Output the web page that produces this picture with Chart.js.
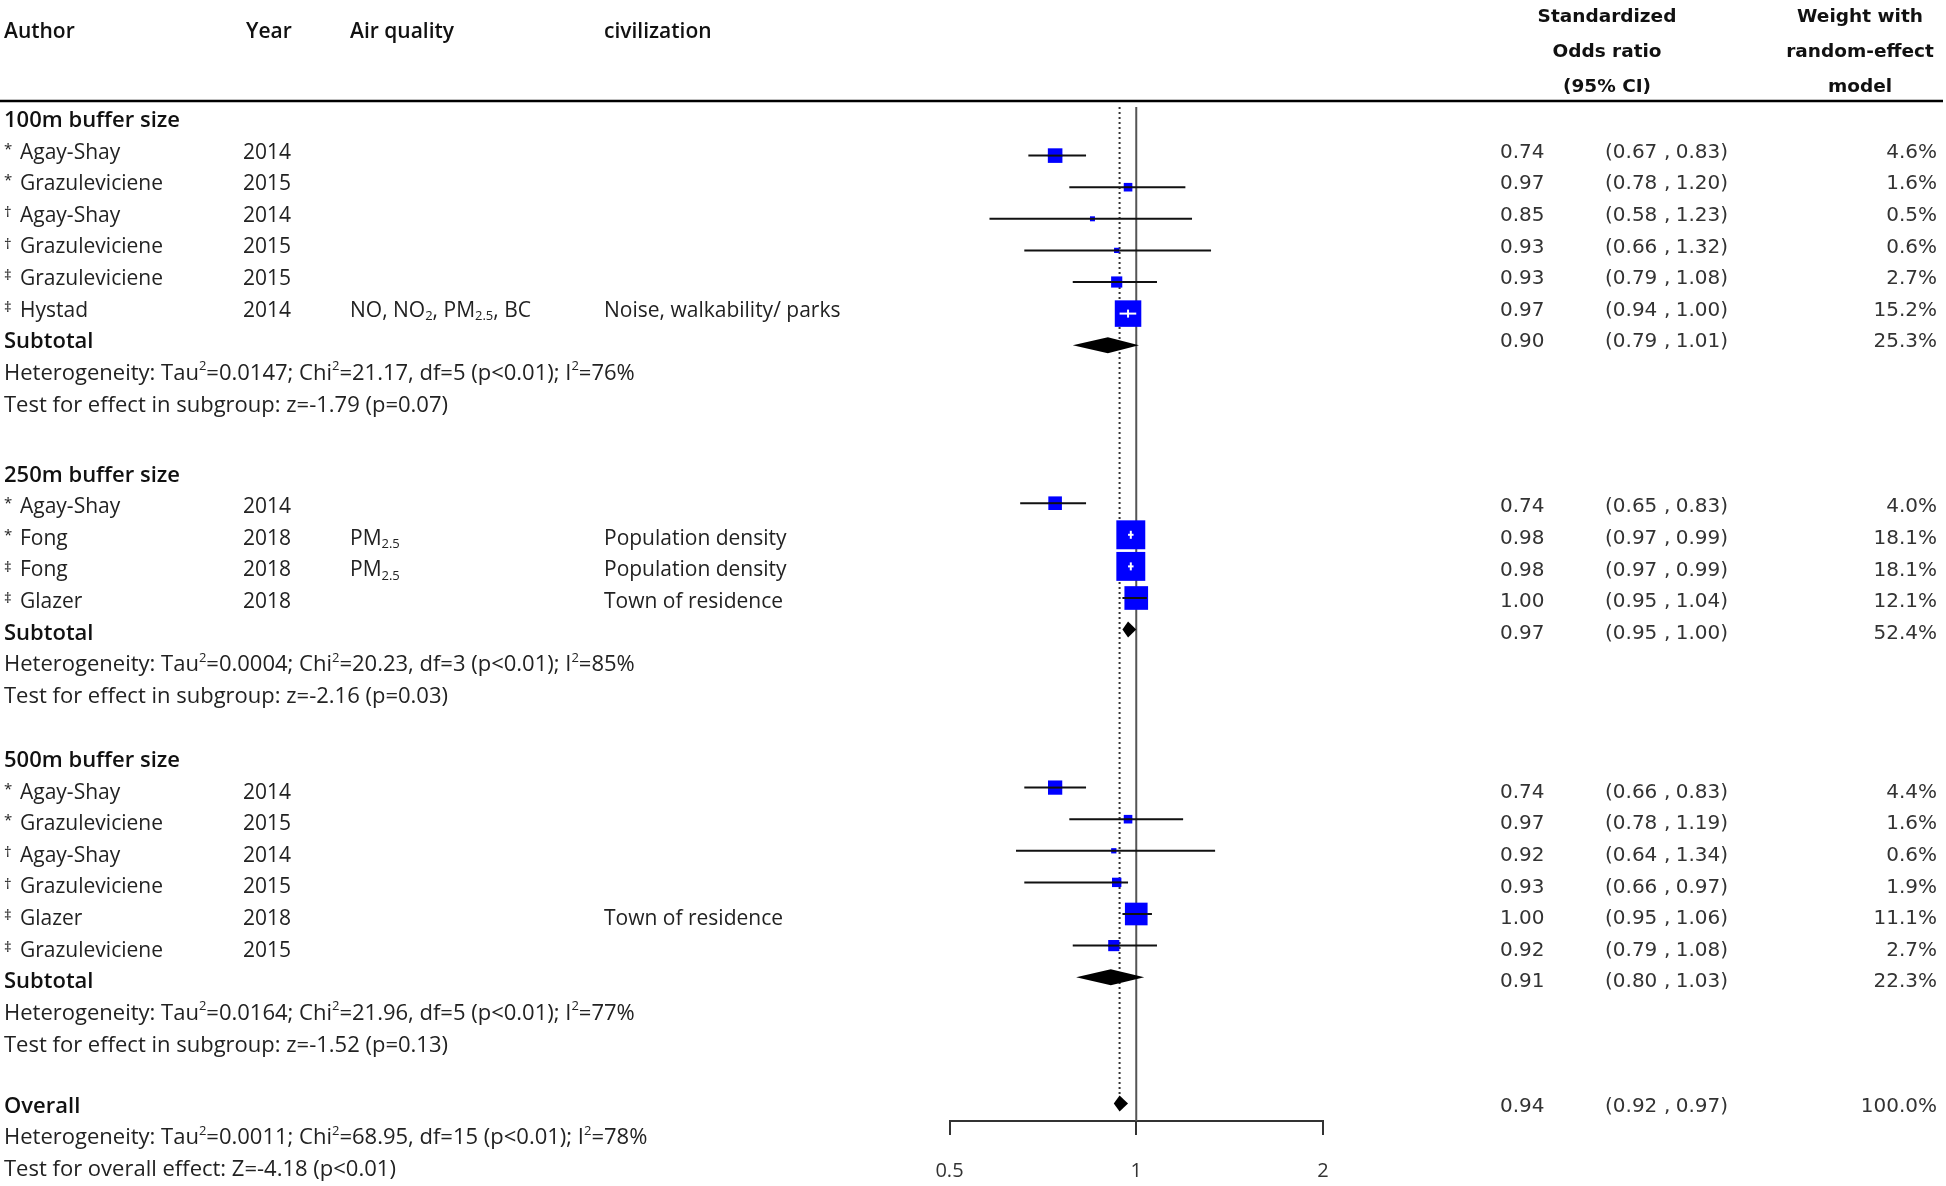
<!DOCTYPE html>
<html>
<head>
<meta charset="utf-8">
<script src="https://cdn.jsdelivr.net/npm/chart.js@4.4.0/dist/chart.umd.min.js"></script>
<style>
  html, body { margin: 0; padding: 0; background: #fff; }
  #wrap { width: 1946px; height: 1186px; }
</style>
</head>
<body>
<div id="wrap"><canvas id="forest" width="1946" height="1186"></canvas></div>
<script>
// Forest plot data
const groupNames = ['100m buffer size', '250m buffer size', '500m buffer size'];
const studyGroup = [0, 0, 0, 0, 0, 0, 1, 1, 1, 1, 2, 2, 2, 2, 2, 2];
const studyMark = ['*', '*', '†', '†', '‡', '‡', '*', '*', '‡', '‡', '*', '*', '†', '†', '‡', '‡'];
const studyAuthor = ['Agay-Shay', 'Grazuleviciene', 'Agay-Shay', 'Grazuleviciene', 'Grazuleviciene', 'Hystad',
  'Agay-Shay', 'Fong', 'Fong', 'Glazer',
  'Agay-Shay', 'Grazuleviciene', 'Agay-Shay', 'Grazuleviciene', 'Glazer', 'Grazuleviciene'];
const studyYear = [2014, 2015, 2014, 2015, 2015, 2014, 2014, 2018, 2018, 2018, 2014, 2015, 2014, 2015, 2018, 2015];
const airQuality = ['', '', '', '', '', 'NO, NO_{2}, PM_{2.5}, BC', '', 'PM_{2.5}', 'PM_{2.5}', '', '', '', '', '', '', ''];
const civilization = ['', '', '', '', '', 'Noise, walkability/ parks', '', 'Population density', 'Population density',
  'Town of residence', '', '', '', '', 'Town of residence', ''];
const oddsRatio = [0.74, 0.97, 0.85, 0.93, 0.93, 0.97, 0.74, 0.98, 0.98, 1.00, 0.74, 0.97, 0.92, 0.93, 1.00, 0.92];
const ciLower = [0.67, 0.78, 0.58, 0.66, 0.79, 0.94, 0.65, 0.97, 0.97, 0.95, 0.66, 0.78, 0.64, 0.66, 0.95, 0.79];
const ciUpper = [0.83, 1.20, 1.23, 1.32, 1.08, 1.00, 0.83, 0.99, 0.99, 1.04, 0.83, 1.19, 1.34, 0.97, 1.06, 1.08];
const weight = [4.6, 1.6, 0.5, 0.6, 2.7, 15.2, 4.0, 18.1, 18.1, 12.1, 4.4, 1.6, 0.6, 1.9, 11.1, 2.7];

const subtotalOR = [0.90, 0.97, 0.91];
const subtotalLower = [0.79, 0.95, 0.80];
const subtotalUpper = [1.01, 1.00, 1.03];
const subtotalWeight = [25.3, 52.4, 22.3];
const heterogeneity = [
  'Heterogeneity: Tau^{2}=0.0147; Chi^{2}=21.17, df=5 (p<0.01); I^{2}=76%',
  'Heterogeneity: Tau^{2}=0.0004; Chi^{2}=20.23, df=3 (p<0.01); I^{2}=85%',
  'Heterogeneity: Tau^{2}=0.0164; Chi^{2}=21.96, df=5 (p<0.01); I^{2}=77%'
];
const subgroupTest = [
  'Test for effect in subgroup: z=-1.79 (p=0.07)',
  'Test for effect in subgroup: z=-2.16 (p=0.03)',
  'Test for effect in subgroup: z=-1.52 (p=0.13)'
];

const overallOR = 0.94;
const overallLower = 0.92;
const overallUpper = 0.97;
const overallWeight = 100.0;
const overallHeterogeneity = 'Heterogeneity: Tau^{2}=0.0011; Chi^{2}=68.95, df=15 (p<0.01); I^{2}=78%';
const overallTest = 'Test for overall effect: Z=-4.18 (p<0.01)';

const xTicks = [0.5, 1, 2];

// row layout: header, studies, subtotal, heterogeneity, test, blank
const studyRow = [];
const headerRow = [];
const subtotalRow = [];
let r = 0;
groupNames.forEach((g, gi) => {
  headerRow.push(r++);
  studyGroup.forEach((sg, i) => { if (sg === gi) studyRow[i] = r++; });
  subtotalRow.push(r);
  r += 4;
});
const overallRow = r;

const LEFT_FONT = '"Open Sans", sans-serif';
const RIGHT_FONT = '"DejaVu Sans", sans-serif';
const TEXT_SIZE = 21;
const STAT_SIZE = 22;
// the text table sits a few px off the plot rows in the original
const textShift = [-3, 4, 5, 3];

function boxSide(w) {
  return Math.max(5, 6.8 * Math.sqrt(w));
}

function richParts(str) {
  const out = [];
  const re = /([_^])\{([^}]*)\}/g;
  let last = 0, m;
  while ((m = re.exec(str))) {
    if (m.index > last) out.push({ t: str.slice(last, m.index), k: '' });
    out.push({ t: m[2], k: m[1] });
    last = re.lastIndex;
  }
  if (last < str.length) out.push({ t: str.slice(last), k: '' });
  return out;
}

function drawRich(ctx, str, x, y, size, bold, color) {
  let cx = x;
  ctx.fillStyle = color;
  ctx.textAlign = 'left';
  ctx.textBaseline = 'middle';
  richParts(str).forEach(p => {
    const sz = p.k ? Math.round(size * 0.6) : size;
    ctx.font = (bold ? '600 ' : '400 ') + sz + 'px ' + LEFT_FONT;
    const dy = p.k === '^' ? -size * 0.33 : (p.k === '_' ? size * 0.28 : 0);
    ctx.fillText(p.t, cx, y + dy);
    cx += ctx.measureText(p.t).width;
  });
}

function drawStats(ctx, y, est, lo, hi, w) {
  ctx.fillStyle = '#333';
  ctx.textBaseline = 'middle';
  ctx.font = '400 20px ' + RIGHT_FONT;
  ctx.textAlign = 'left';
  ctx.fillText(est.toFixed(2), 1500, y);
  ctx.fillText('(' + lo.toFixed(2), 1605, y);
  ctx.fillText(',', 1664, y);
  ctx.textAlign = 'right';
  ctx.fillText(hi.toFixed(2) + ')', 1728, y);
  ctx.fillText(w.toFixed(1) + '%', 1937, y);
}

const forestPlugin = {
  id: 'forest',
  beforeDatasetsDraw(chart) {
    const { ctx, chartArea, scales: { x, y } } = chart;
    ctx.save();
    // line of no effect
    const x1 = x.getPixelForValue(1);
    ctx.strokeStyle = '#555';
    ctx.lineWidth = 2;
    ctx.beginPath();
    ctx.moveTo(x1, chartArea.top);
    ctx.lineTo(x1, chartArea.bottom);
    ctx.stroke();
    // overall estimate, dotted
    const xo = x.getPixelForValue(overallOR);
    ctx.strokeStyle = '#333';
    ctx.setLineDash([2, 3]);
    ctx.beginPath();
    ctx.moveTo(xo, chartArea.top);
    ctx.lineTo(xo, y.getPixelForValue(overallRow) - 9);
    ctx.stroke();
    ctx.setLineDash([]);
    // confidence intervals
    ctx.strokeStyle = '#111';
    ctx.lineWidth = 2;
    oddsRatio.forEach((v, i) => {
      const yp = y.getPixelForValue(studyRow[i]);
      ctx.beginPath();
      ctx.moveTo(x.getPixelForValue(ciLower[i]), yp);
      ctx.lineTo(x.getPixelForValue(ciUpper[i]), yp);
      ctx.stroke();
    });
    ctx.restore();
  },
  afterDatasetsDraw(chart) {
    const { ctx, scales: { x, y } } = chart;
    ctx.save();
    // CI drawn over the box: white when it fits inside it
    oddsRatio.forEach((v, i) => {
      const yp = y.getPixelForValue(studyRow[i]);
      const half = boxSide(weight[i]) / 2;
      const xc = x.getPixelForValue(v);
      const xl = x.getPixelForValue(ciLower[i]);
      const xr = x.getPixelForValue(ciUpper[i]);
      const inside = xl > xc - half && xr < xc + half;
      ctx.strokeStyle = inside ? '#fff' : '#111';
      ctx.lineWidth = 2;
      ctx.beginPath();
      ctx.moveTo(Math.max(xl, xc - half), yp);
      ctx.lineTo(Math.min(xr, xc + half), yp);
      ctx.stroke();
      if (inside) {
        ctx.beginPath();
        ctx.moveTo(xc, yp - 4);
        ctx.lineTo(xc, yp + 4);
        ctx.stroke();
      }
    });
    // pooled estimates
    const pooled = subtotalOR.map((v, g) => [v, subtotalLower[g], subtotalUpper[g], subtotalRow[g]]);
    pooled.push([overallOR, overallLower, overallUpper, overallRow]);
    ctx.fillStyle = '#000';
    pooled.forEach(([est, lo, hi, row]) => {
      const yc = y.getPixelForValue(row);
      ctx.beginPath();
      ctx.moveTo(x.getPixelForValue(lo), yc);
      ctx.lineTo(x.getPixelForValue(est), yc - 8);
      ctx.lineTo(x.getPixelForValue(hi), yc);
      ctx.lineTo(x.getPixelForValue(est), yc + 8);
      ctx.closePath();
      ctx.fill();
    });
    ctx.restore();
  },
  afterDraw(chart) {
    const { ctx, scales: { y } } = chart;
    ctx.save();
    const ty = (row, g) => y.getPixelForValue(row) + textShift[g];

    // column headers
    ctx.fillStyle = '#111';
    ctx.textBaseline = 'middle';
    ctx.textAlign = 'left';
    ctx.font = '600 21px ' + LEFT_FONT;
    ctx.fillText('Author', 4, 32);
    ctx.fillText('Year', 246, 32);
    ctx.fillText('Air quality', 350, 32);
    ctx.fillText('civilization', 604, 32);
    ctx.textAlign = 'center';
    ctx.font = '600 18.5px ' + RIGHT_FONT;
    ctx.fillStyle = '#111';
    ['Standardized', 'Odds ratio', '(95% CI)'].forEach((t, k) => ctx.fillText(t, 1607, 17 + 35 * k));
    ['Weight with', 'random-effect', 'model'].forEach((t, k) => ctx.fillText(t, 1860, 17 + 35 * k));

    ctx.strokeStyle = '#000';
    ctx.lineWidth = 2.5;
    ctx.beginPath();
    ctx.moveTo(0, 101);
    ctx.lineTo(1943, 101);
    ctx.stroke();

    groupNames.forEach((g, gi) => {
      drawRich(ctx, g, 4, ty(headerRow[gi], gi), 22, true, '#111');
      drawRich(ctx, 'Subtotal', 4, ty(subtotalRow[gi], gi), 22, true, '#111');
      drawStats(ctx, ty(subtotalRow[gi], gi), subtotalOR[gi], subtotalLower[gi], subtotalUpper[gi], subtotalWeight[gi]);
      drawRich(ctx, heterogeneity[gi], 4, ty(subtotalRow[gi] + 1, gi), STAT_SIZE, false, '#222');
      drawRich(ctx, subgroupTest[gi], 4, ty(subtotalRow[gi] + 2, gi), STAT_SIZE, false, '#222');
    });

    studyAuthor.forEach((a, i) => {
      const yy = ty(studyRow[i], studyGroup[i]);
      ctx.fillStyle = '#222';
      ctx.font = '400 15px ' + LEFT_FONT;
      ctx.textAlign = 'left';
      ctx.textBaseline = 'middle';
      ctx.fillText(studyMark[i], 4, yy - 3);
      drawRich(ctx, a, 20, yy, TEXT_SIZE, false, '#222');
      drawRich(ctx, String(studyYear[i]), 243, yy, TEXT_SIZE, false, '#222');
      if (airQuality[i]) drawRich(ctx, airQuality[i], 350, yy, TEXT_SIZE, false, '#222');
      if (civilization[i]) drawRich(ctx, civilization[i], 604, yy, TEXT_SIZE, false, '#222');
      drawStats(ctx, yy, oddsRatio[i], ciLower[i], ciUpper[i], weight[i]);
    });

    drawRich(ctx, 'Overall', 4, ty(overallRow, 3), 22, true, '#111');
    drawStats(ctx, ty(overallRow, 3), overallOR, overallLower, overallUpper, overallWeight);
    drawRich(ctx, overallHeterogeneity, 4, ty(overallRow + 1, 3), STAT_SIZE, false, '#222');
    drawRich(ctx, overallTest, 4, ty(overallRow + 2, 3), STAT_SIZE, false, '#222');
    ctx.restore();
  }
};

new Chart(document.getElementById('forest'), {
  type: 'scatter',
  data: {
    datasets: [{
      label: 'Study estimate',
      data: oddsRatio.map((v, i) => ({ x: v, y: studyRow[i] })),
      pointStyle: 'rect',
      pointRadius: weight.map(w => boxSide(w) / Math.SQRT2),
      pointHoverRadius: weight.map(w => boxSide(w) / Math.SQRT2),
      backgroundColor: '#0000ff',
      borderColor: '#0000ff',
      borderWidth: 0
    }]
  },
  options: {
    responsive: false,
    animation: false,
    events: [],
    clip: false,
    layout: { padding: { left: 949.5, right: 623, top: 107, bottom: 0 } },
    plugins: { legend: { display: false }, tooltip: { enabled: false } },
    scales: {
      x: {
        type: 'logarithmic',
        min: 0.5,
        max: 2,
        afterBuildTicks: s => { s.ticks = xTicks.map(v => ({ value: v })); },
        afterFit: s => { s.height = 65; },
        ticks: {
          callback: v => String(v),
          color: '#333',
          padding: 24,
          maxRotation: 0,
          autoSkip: false,
          font: { family: LEFT_FONT, size: 20 }
        },
        grid: { drawOnChartArea: false, drawTicks: true, tickLength: 14, color: '#333', lineWidth: 2 },
        border: { display: true, color: '#333', width: 2 }
      },
      y: {
        type: 'linear',
        display: false,
        reverse: true,
        min: -0.538,
        max: 31.551
      }
    }
  },
  plugins: [forestPlugin]
});
</script>
</body>
</html>
